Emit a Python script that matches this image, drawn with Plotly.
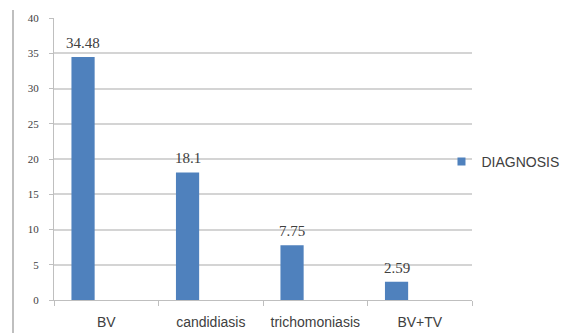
import plotly.graph_objects as go

categories = ["BV", "candidiasis", "trichomoniasis", "BV+TV"]
values = [34.48, 18.1, 7.75, 2.59]
value_labels = ["34.48", "18.1", "7.75", "2.59"]
series_name = "DIAGNOSIS"
y_ticks = [0, 5, 10, 15, 20, 25, 30, 35, 40]

BAR_W = 0.222
BAR_OFF = -0.333
COLOR = "#4F81BD"

fig = go.Figure()
fig.add_trace(go.Bar(
    x=categories, y=values, name=series_name, showlegend=False,
    width=BAR_W, offset=BAR_OFF,
    marker=dict(color=COLOR, line=dict(width=0)),
))
# legend-only entry with a small square key
fig.add_trace(go.Scatter(
    x=[None], y=[None], name=series_name, mode="markers",
    marker=dict(symbol="square", size=8, color=COLOR),
))

annotations = []
for i, (v, lab) in enumerate(zip(values, value_labels)):
    annotations.append(dict(
        x=i + BAR_OFF + BAR_W / 2, y=v, xref="x", yref="y",
        text=lab, showarrow=False, yanchor="bottom", yshift=4,
        font=dict(family="Liberation Serif", size=15, color="#404040"),
    ))

fig.update_layout(
    width=563, height=333,
    margin=dict(l=54, r=91, t=18, b=33, autoexpand=False),
    paper_bgcolor="white", plot_bgcolor="white",
    showlegend=True,
    legend=dict(x=0.927, y=0.49, xanchor="left", yanchor="middle",
                font=dict(family="Liberation Sans", size=14, color="#404040"),
                itemwidth=30, bgcolor="rgba(0,0,0,0)"),
    xaxis=dict(
        type="category", range=[-0.5, 3.5], automargin=False,
        showline=True, linecolor="#bfbfbf", linewidth=1,
        ticks="outside", tickson="boundaries", ticklen=5, tickcolor="#bfbfbf",
        tickfont=dict(family="Liberation Sans", size=14, color="#404040"),
        tickangle=0, ticklabelstandoff=9,
        showgrid=False,
    ),
    yaxis=dict(
        range=[0, 40], tickvals=y_ticks, automargin=False,
        showline=True, linecolor="#bfbfbf", linewidth=1,
        ticks="outside", ticklen=4, tickcolor="#bfbfbf",
        tickfont=dict(family="Liberation Serif", size=11, color="#404040"),
        ticklabelstandoff=8,
        showgrid=True, gridcolor="#d4d4d4", gridwidth=2,
        zeroline=False,
    ),
    annotations=annotations,
    shapes=[dict(type="line", xref="paper", yref="paper",
                 x0=-41/418, x1=-41/418, y0=-33/282, y1=1 + 8/282,
                 line=dict(color="#bfbfbf", width=2))],
)

fig.write_html("out.html")
